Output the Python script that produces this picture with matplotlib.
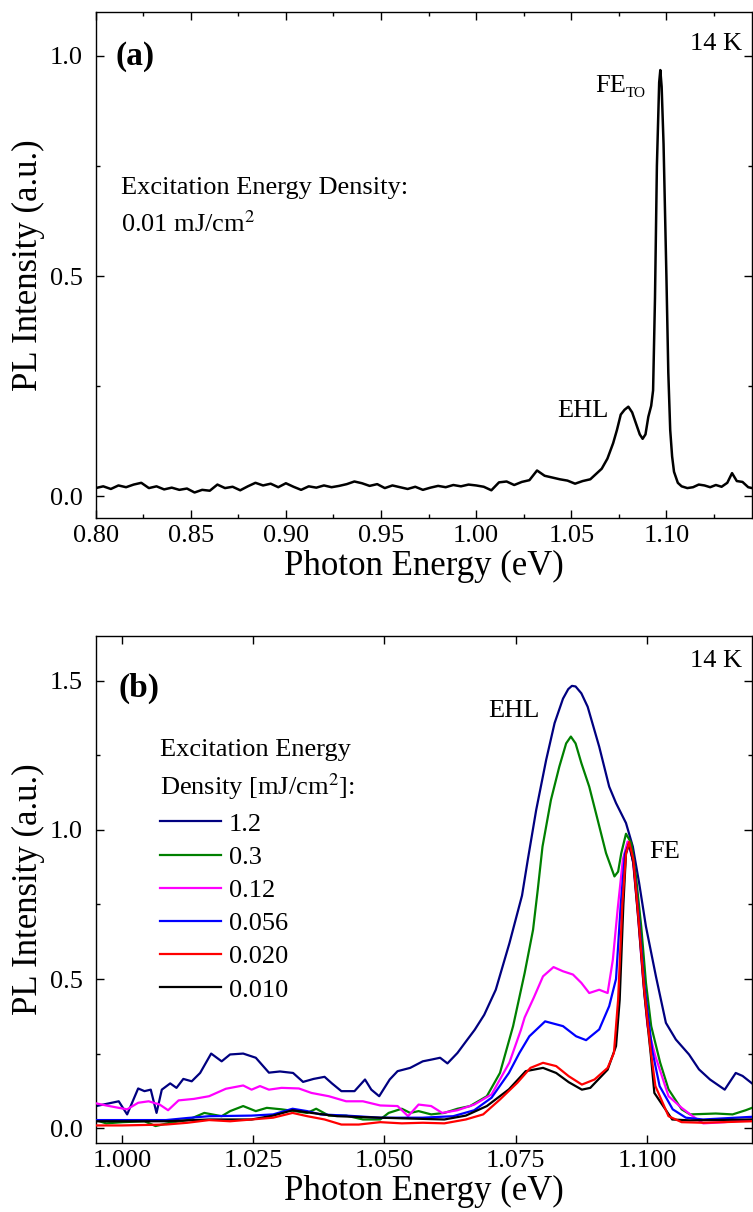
import numpy as np
import matplotlib
matplotlib.use("Agg")
import matplotlib.pyplot as plt
from matplotlib.ticker import MultipleLocator, FormatStrFormatter

plt.rcParams['font.family'] = ['Liberation Serif', 'DejaVu Serif']
plt.rcParams['mathtext.fontset'] = 'stix'

# ---------------- panel (a): 0.01 mJ/cm^2 -----------------
# baseline sampled every 4 meV from 0.800 to 1.060 eV
a_base_e = np.round(np.arange(0.800, 1.0601, 0.004), 3)
a_base_i = [0.018, 0.022, 0.016, 0.024, 0.020, 0.026, 0.030, 0.018, 0.022, 0.015,
            0.019, 0.014, 0.017, 0.008, 0.014, 0.012, 0.026, 0.018, 0.021, 0.013,
            0.022, 0.030, 0.024, 0.028, 0.020, 0.029, 0.021, 0.014, 0.022, 0.019,
            0.024, 0.020, 0.023, 0.027, 0.033, 0.029, 0.023, 0.027, 0.018, 0.024,
            0.020, 0.016, 0.021, 0.014, 0.019, 0.023, 0.020, 0.025, 0.022, 0.026,
            0.024, 0.021, 0.013, 0.031, 0.033, 0.025, 0.032, 0.036, 0.058, 0.046,
            0.042, 0.038, 0.035, 0.028, 0.034, 0.038]
# EHL + FE_TO region and high-energy tail
a_peak_e = [1.063, 1.066, 1.069, 1.072, 1.074, 1.076, 1.078, 1.080, 1.082, 1.084,
            1.086, 1.0875, 1.089, 1.0905, 1.092, 1.093, 1.094, 1.095, 1.0962, 1.0968,
            1.0975, 1.0985, 1.100, 1.101, 1.102, 1.103, 1.104, 1.106, 1.108, 1.111,
            1.114, 1.117, 1.120, 1.123, 1.126, 1.129, 1.132, 1.1345, 1.137, 1.140,
            1.143, 1.145]
a_peak_i = [0.050, 0.062, 0.085, 0.120, 0.150, 0.185, 0.196, 0.203, 0.190, 0.165,
            0.140, 0.130, 0.140, 0.180, 0.205, 0.240, 0.450, 0.750, 0.940, 0.968,
            0.930, 0.800, 0.500, 0.280, 0.150, 0.090, 0.055, 0.030, 0.022, 0.018,
            0.020, 0.026, 0.024, 0.020, 0.025, 0.021, 0.030, 0.052, 0.034, 0.032,
            0.020, 0.018]

# ---------------- panel (b): density series -----------------
labels_b = ['1.2', '0.3', '0.12', '0.056', '0.020', '0.010']
colors_b = ['#000080', '#008000', '#ff00ff', '#0000ff', '#ff0000', '#000000']

e_12 = [0.9951, 0.9994, 1.0010, 1.0031, 1.0043, 1.0055, 1.0066, 1.0076, 1.0092, 1.0104,
        1.0117, 1.0133, 1.0149, 1.0170, 1.0190, 1.0206, 1.0231, 1.0255, 1.0280, 1.0301,
        1.0326, 1.0345, 1.0365, 1.0386, 1.0400, 1.0418, 1.0443, 1.0463, 1.0475, 1.0490,
        1.0510, 1.0525, 1.0549, 1.0573, 1.0590, 1.0606, 1.0620, 1.0639, 1.0655, 1.0672,
        1.0690, 1.0712, 1.0738, 1.0750, 1.0762, 1.0773, 1.0789, 1.0808, 1.0824, 1.0840,
        1.0850, 1.0857, 1.0864, 1.0875, 1.0887, 1.0909, 1.0928, 1.0941, 1.0960, 1.0973,
        1.0985, 1.0998, 1.1017, 1.1036, 1.1055, 1.1080, 1.1099, 1.1120, 1.1148, 1.1169,
        1.1182, 1.1200]
i_12 = [0.074, 0.090, 0.046, 0.133, 0.124, 0.129, 0.051, 0.129, 0.150, 0.135,
        0.165, 0.157, 0.185, 0.250, 0.224, 0.247, 0.250, 0.236, 0.186, 0.190,
        0.185, 0.155, 0.165, 0.172, 0.150, 0.124, 0.124, 0.163, 0.129, 0.107,
        0.163, 0.191, 0.202, 0.224, 0.230, 0.236, 0.217, 0.252, 0.290, 0.330,
        0.380, 0.464, 0.620, 0.700, 0.780, 0.900, 1.067, 1.235, 1.358, 1.440,
        1.472, 1.483, 1.481, 1.458, 1.413, 1.279, 1.145, 1.090, 1.023, 0.944,
        0.822, 0.676, 0.509, 0.353, 0.297, 0.247, 0.197, 0.163, 0.129, 0.185,
        0.175, 0.150]

e_03 = [0.9950, 0.9970, 1.0002, 1.0043, 1.0064, 1.0092, 1.0125, 1.0157, 1.0190, 1.0206,
        1.0231, 1.0255, 1.0276, 1.0304, 1.0329, 1.0353, 1.0370, 1.0394, 1.0427, 1.0459,
        1.0492, 1.0508, 1.0533, 1.0549, 1.0565, 1.0589, 1.0614, 1.0639, 1.0663, 1.0695,
        1.0720, 1.0745, 1.0767, 1.0783, 1.0792, 1.0801, 1.0817, 1.0833, 1.0846, 1.0855,
        1.0864, 1.0875, 1.0890, 1.0906, 1.0922, 1.0938, 1.0945, 1.0951, 1.0960, 1.0970,
        1.0979, 1.0989, 1.0998, 1.1008, 1.1025, 1.1041, 1.1066, 1.1082, 1.1131, 1.1163,
        1.1188, 1.1200]
i_03 = [0.027, 0.016, 0.020, 0.023, 0.007, 0.018, 0.027, 0.051, 0.040, 0.057,
        0.074, 0.057, 0.068, 0.063, 0.057, 0.051, 0.065, 0.042, 0.042, 0.029,
        0.029, 0.051, 0.065, 0.051, 0.057, 0.046, 0.051, 0.065, 0.074, 0.107,
        0.185, 0.342, 0.520, 0.665, 0.800, 0.944, 1.100, 1.212, 1.290, 1.313,
        1.290, 1.224, 1.145, 1.034, 0.922, 0.844, 0.860, 0.922, 0.987, 0.956,
        0.844, 0.676, 0.487, 0.342, 0.220, 0.130, 0.063, 0.046, 0.049, 0.046,
        0.060, 0.068]

e_012 = [0.9951, 0.9970, 0.9994, 1.0010, 1.0031, 1.0051, 1.0072, 1.0088, 1.0108, 1.0137,
         1.0166, 1.0198, 1.0231, 1.0247, 1.0263, 1.0280, 1.0304, 1.0337, 1.0361, 1.0394,
         1.0427, 1.0459, 1.0492, 1.0525, 1.0545, 1.0565, 1.0589, 1.0610, 1.0639, 1.0671,
         1.0704, 1.0738, 1.0760, 1.0767, 1.0784, 1.0802, 1.0822, 1.0840, 1.0859, 1.0875,
         1.0890, 1.0909, 1.0925, 1.0935, 1.0944, 1.0954, 1.0963, 1.0973, 1.0982, 1.0992,
         1.1001, 1.1016, 1.1041, 1.1066, 1.1087, 1.1107, 1.1148, 1.1200]
i_012 = [0.083, 0.076, 0.068, 0.063, 0.085, 0.090, 0.079, 0.060, 0.093, 0.098,
         0.107, 0.132, 0.143, 0.129, 0.141, 0.129, 0.135, 0.133, 0.118, 0.107,
         0.090, 0.090, 0.076, 0.074, 0.040, 0.079, 0.074, 0.051, 0.060, 0.079,
         0.113, 0.220, 0.330, 0.371, 0.436, 0.509, 0.540, 0.526, 0.515, 0.487,
         0.453, 0.464, 0.453, 0.565, 0.732, 0.900, 0.961, 0.900, 0.732, 0.509,
         0.342, 0.241, 0.107, 0.068, 0.040, 0.016, 0.020, 0.029]

e_0056 = [0.9950, 1.0000, 1.0084, 1.0125, 1.0166, 1.0247, 1.0288, 1.0325, 1.0353, 1.0378,
          1.0427, 1.0492, 1.0573, 1.0631, 1.0671, 1.0704, 1.0737, 1.0757, 1.0776, 1.0806,
          1.0840, 1.0865, 1.0884, 1.0909, 1.0928, 1.0941, 1.0950, 1.0958, 1.0966, 1.0975,
          1.0985, 1.0995, 1.1010, 1.1024, 1.1049, 1.1074, 1.1107, 1.1200]
i_0056 = [0.027, 0.027, 0.027, 0.034, 0.040, 0.042, 0.046, 0.065, 0.057, 0.046,
          0.042, 0.035, 0.035, 0.040, 0.060, 0.102, 0.185, 0.252, 0.308, 0.358,
          0.342, 0.308, 0.295, 0.331, 0.409, 0.500, 0.750, 0.920, 0.955, 0.880,
          0.700, 0.480, 0.260, 0.141, 0.063, 0.035, 0.029, 0.038]

e_0020 = [0.9950, 1.0000, 1.0084, 1.0125, 1.0166, 1.0206, 1.0247, 1.0288, 1.0325, 1.0353,
          1.0386, 1.0418, 1.0451, 1.0492, 1.0533, 1.0573, 1.0614, 1.0655, 1.0688, 1.0720,
          1.0753, 1.0778, 1.0802, 1.0827, 1.0851, 1.0876, 1.0900, 1.0925, 1.0937, 1.0945,
          1.0953, 1.0960, 1.0966, 1.0974, 1.0984, 1.0995, 1.1007, 1.1016, 1.1041, 1.1066,
          1.1107, 1.1200]
i_0020 = [0.009, 0.009, 0.012, 0.018, 0.027, 0.023, 0.029, 0.035, 0.051, 0.040,
          0.029, 0.012, 0.012, 0.020, 0.016, 0.018, 0.016, 0.029, 0.046, 0.096,
          0.152, 0.202, 0.219, 0.208, 0.174, 0.146, 0.163, 0.202, 0.252, 0.431,
          0.750, 0.920, 0.960, 0.900, 0.700, 0.460, 0.260, 0.141, 0.040, 0.020,
          0.018, 0.023]

e_0010 = [0.9951, 1.0002, 1.0084, 1.0166, 1.0247, 1.0288, 1.0325, 1.0361, 1.0410, 1.0492,
          1.0573, 1.0614, 1.0655, 1.0695, 1.0737, 1.0769, 1.0802, 1.0827, 1.0851, 1.0876,
          1.0892, 1.0925, 1.0941, 1.0948, 1.0955, 1.0960, 1.0966, 1.0974, 1.0984, 1.0995,
          1.1007, 1.1014, 1.1048, 1.1081, 1.1200]
i_0010 = [0.023, 0.023, 0.023, 0.029, 0.029, 0.042, 0.060, 0.051, 0.040, 0.035,
          0.031, 0.029, 0.042, 0.074, 0.130, 0.191, 0.202, 0.185, 0.154, 0.129,
          0.135, 0.196, 0.275, 0.430, 0.750, 0.920, 0.955, 0.890, 0.690, 0.450,
          0.250, 0.118, 0.029, 0.026, 0.029]

series_b = [(e_12, i_12), (e_03, i_03), (e_012, i_012),
            (e_0056, i_0056), (e_0020, i_0020), (e_0010, i_0010)]
zorders_b = [2, 3, 4, 5, 7, 6]

# ---------------- figure -----------------
fig = plt.figure(figsize=(7.53, 12.12), dpi=100)
ax1 = fig.add_axes([0.127, 0.5726, 0.8717, 0.4175])
ax2 = fig.add_axes([0.127, 0.0569, 0.8717, 0.4183])

TICK = 19
LAB = 25


def style(ax):
    ax.tick_params(which='both', direction='in', top=True, right=True,
                   labelsize=TICK, width=1.0)
    ax.tick_params(which='major', length=6)
    ax.tick_params(which='minor', length=3)
    ax.tick_params(axis='x', pad=5)
    ax.tick_params(axis='y', pad=9)
    for s in ax.spines.values():
        s.set_linewidth(1.0)
    ax.set_xlabel('Photon Energy (eV)', fontsize=LAB, labelpad=2)
    ax.set_ylabel('PL Intensity (a.u.)', fontsize=LAB)
    ax.yaxis.set_label_coords(-0.077, 0.5)


# panel (a)
ax1.plot(np.concatenate([a_base_e, a_peak_e]), np.concatenate([a_base_i, a_peak_i]),
         color='black', lw=1.8)
ax1.set_xlim(0.80, 1.145)
ax1.set_ylim(-0.05, 1.1)
ax1.xaxis.set_major_locator(MultipleLocator(0.05))
ax1.xaxis.set_minor_locator(MultipleLocator(0.025))
ax1.xaxis.set_major_formatter(FormatStrFormatter('%.2f'))
ax1.yaxis.set_major_locator(MultipleLocator(0.5))
ax1.yaxis.set_minor_locator(MultipleLocator(0.25))
ax1.yaxis.set_major_formatter(FormatStrFormatter('%.1f'))
style(ax1)
ax1.text(0.031, 0.895, '(a)', transform=ax1.transAxes, fontsize=24, fontweight='bold')
ax1.text(0.985, 0.925, '14 K', transform=ax1.transAxes, fontsize=TICK, ha='right')
ax1.text(0.761, 0.842, 'FE', transform=ax1.transAxes, fontsize=TICK)
ax1.text(0.808, 0.832, 'TO', transform=ax1.transAxes, fontsize=11)
ax1.text(0.703, 0.200, 'EHL', transform=ax1.transAxes, fontsize=TICK)
ax1.text(0.038, 0.640, 'Excitation Energy Density:', transform=ax1.transAxes, fontsize=TICK)
ax1.text(0.038, 0.565, r'0.01 mJ/cm$^{2}$', transform=ax1.transAxes, fontsize=TICK)

# panel (b)
handles = []
for (e, i), lab, c, z in zip(series_b, labels_b, colors_b, zorders_b):
    ln, = ax2.plot(e, i, color=c, lw=1.6, label=lab, zorder=z)
    handles.append(ln)
ax2.set_xlim(0.995, 1.12)
ax2.set_ylim(-0.05, 1.65)
ax2.xaxis.set_major_locator(MultipleLocator(0.025))
ax2.xaxis.set_major_formatter(FormatStrFormatter('%.3f'))
ax2.yaxis.set_major_locator(MultipleLocator(0.5))
ax2.yaxis.set_minor_locator(MultipleLocator(0.25))
ax2.yaxis.set_major_formatter(FormatStrFormatter('%.1f'))
style(ax2)
ax2.text(0.0355, 0.880, '(b)', transform=ax2.transAxes, fontsize=24, fontweight='bold')
ax2.text(0.985, 0.939, '14 K', transform=ax2.transAxes, fontsize=TICK, ha='right')
ax2.text(0.598, 0.840, 'EHL', transform=ax2.transAxes, fontsize=TICK)
ax2.text(0.843, 0.5615, 'FE', transform=ax2.transAxes, fontsize=TICK)
leg = ax2.legend(handles=handles, title='Excitation Energy\nDensity [mJ/cm$^{2}$]:',
                 loc='upper left', bbox_to_anchor=(0.098, 0.797), frameon=False,
                 fontsize=TICK, title_fontsize=TICK, alignment='left',
                 handlelength=2.3, handletextpad=0.3, labelspacing=0.37,
                 borderpad=0, borderaxespad=0)
leg.get_title().set_linespacing(1.45)

fig.savefig('out.png', dpi=100)
